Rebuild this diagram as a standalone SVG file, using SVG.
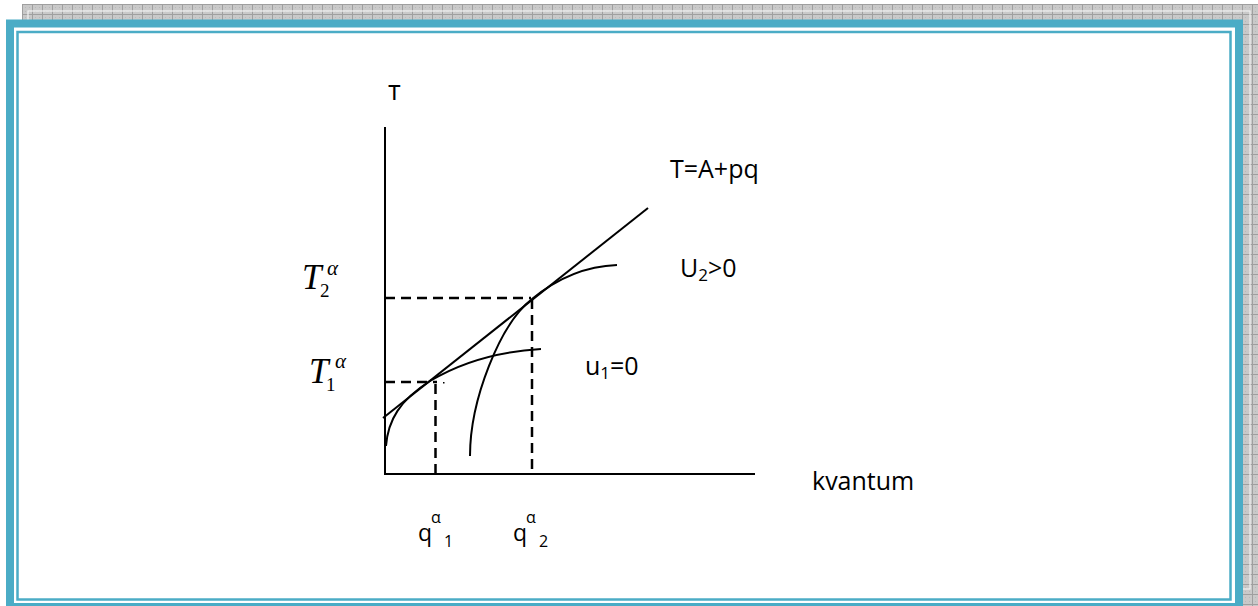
<svg xmlns="http://www.w3.org/2000/svg" width="1258" height="606" viewBox="0 0 1258 606">
<defs>
<pattern id="grid" x="22" y="4" width="10" height="10" patternUnits="userSpaceOnUse">
<rect width="10" height="10" fill="#c9c9c9"/>
<path d="M0 0.5H10M0.5 0V10" stroke="#9f9f9f" stroke-width="1"/>
<path d="M3 3h1v1h-1zM7 7h1v1h-1zM3 7h1v1h-1zM7 3h1v1h-1z" fill="#b8b8b8"/>
</pattern>
<style>
.ax{stroke:#000;stroke-width:2;fill:none}
.cv{stroke:#000;stroke-width:2;fill:none}
.ds{stroke:#000;stroke-width:2.5;fill:none;stroke-dasharray:10 6}
.lb{font-family:"Open Sans","Liberation Sans",sans-serif;fill:#000}
.ti{font-family:"Liberation Serif","Times New Roman",serif;font-style:italic;fill:#000}
.tr{font-family:"Liberation Serif","Times New Roman",serif;fill:#000}
</style>
</defs>
<rect x="0" y="0" width="1258" height="606" fill="#fff"/>
<rect x="22" y="4" width="1236" height="602" fill="url(#grid)"/>
<rect x="28" y="11" width="1222" height="578" fill="none" stroke="#f2f2f2" stroke-width="1.2"/>
<rect x="10" y="23.5" width="1229" height="583.5" fill="#fff" stroke="#4BACC6" stroke-width="8"/>
<rect x="17.5" y="32" width="1213" height="567.5" fill="none" stroke="#4BACC6" stroke-width="2.5"/>

<g id="axes">
<path class="ax" d="M385 127V474H755"/>
</g>
<g id="connectors">
<path class="cv" d="M383 418L648 208"/>
<path class="ds" d="M385 298H531"/>
<path class="ds" d="M532 299V474"/>
<path class="ds" d="M385 382H437"/>
<path class="ds" d="M435.5 384V474"/>
<rect x="443" y="382" width="1.5" height="1.5" fill="#000"/>
</g>
<g id="curve-u1">
<path class="cv" d="M386 446C388 420 400 400 430 381C455 366 490 352 541 349"/>
</g>
<g id="curve-u2">
<path class="cv" d="M470 456C470 400 500 324 532 299C560 276 590 266 617 265"/>
</g>

<g id="labels">
<text class="lb" x="388" y="100" font-size="27">т</text>
<text class="lb" x="670" y="178" font-size="25">T=A+pq</text>
<text class="lb" x="680" y="277" font-size="25">U<tspan font-size="17" dy="4">2</tspan><tspan dy="-4">&gt;0</tspan></text>
<text class="lb" x="585" y="375" font-size="25">u<tspan font-size="17" dy="4">1</tspan><tspan dy="-4">=0</tspan></text>
<text class="lb" x="812" y="490" font-size="25">kvantum</text>
<g id="q1">
<text class="lb" x="418" y="541" font-size="23">q</text>
<text class="lb" x="431" y="523" font-size="16">α</text>
<text class="lb" x="444" y="547" font-size="16">1</text>
</g>
<g id="q2">
<text class="lb" x="513" y="541" font-size="23">q</text>
<text class="lb" x="526" y="523" font-size="16">α</text>
<text class="lb" x="539" y="547" font-size="16">2</text>
</g>
<g id="T2">
<text class="ti" x="302" y="289" font-size="35">T</text>
<text class="tr" x="320" y="297" font-size="19">2</text>
<text class="ti" x="327" y="275" font-size="21">α</text>
</g>
<g id="T1">
<text class="ti" x="309" y="383" font-size="35">T</text>
<text class="tr" x="326" y="391" font-size="19">1</text>
<text class="ti" x="335" y="368" font-size="21">α</text>
</g>
</g>
</svg>
